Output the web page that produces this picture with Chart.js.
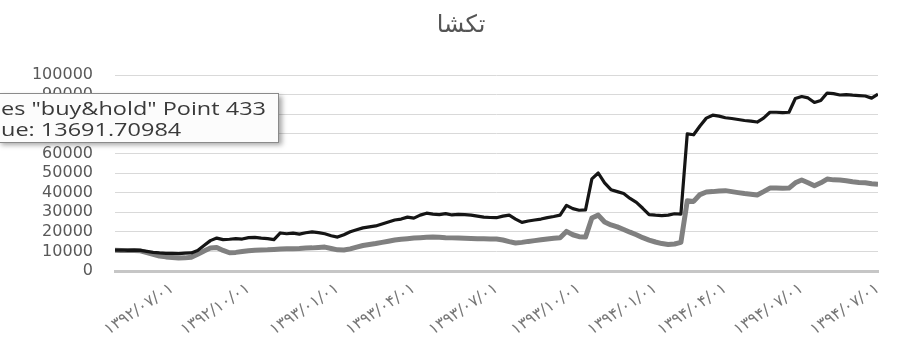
<!DOCTYPE html>
<html><head><meta charset="utf-8">
<script src="https://cdn.jsdelivr.net/npm/chart.js@4"></script>
<style>html,body{margin:0;padding:0;background:#fff}#wrap{width:904px;height:346px}</style>
</head><body><div id="wrap"><canvas id="c" width="904" height="346"></canvas></div>
<script>
const titleText = 'تکشا';
const dateLabels = ['۱۳۹۲/۰۷/۰۱','۱۳۹۲/۱۰/۰۱','۱۳۹۳/۰۱/۰۱','۱۳۹۳/۰۴/۰۱','۱۳۹۳/۰۷/۰۱','۱۳۹۳/۱۰/۰۱','۱۳۹۴/۰۱/۰۱','۱۳۹۴/۰۴/۰۱','۱۳۹۴/۰۷/۰۱','۱۳۹۴/۰۷/۰۱'];
const dateTickIndex = [9, 21, 35, 47, 60, 73, 85, 96, 108, 120];
const yMin = 0, yMax = 100000, yStep = 10000;
const strategy = [
10600,10700,10500,10600,10500,10000,9500,9200,9000,9000,
8900,9100,9200,10500,13000,15500,16800,16000,16200,16500,
16300,17000,17200,16800,16500,16000,19400,19000,19300,18800,
19500,20000,19600,19000,18000,17300,18500,20000,21000,22000,
22500,23000,24000,25000,26000,26500,27500,27000,28500,29500,
29000,28800,29300,28600,28900,28800,28500,28000,27500,27300,
27200,28000,28500,26500,24800,25500,26000,26500,27200,27800,
28500,33500,31800,31000,31200,47000,50000,45000,41500,40500,
39500,37000,35000,32000,28800,28500,28300,28500,29200,29000,
70000,69500,74000,78000,79500,79000,78200,77800,77300,76800,
76500,76000,78000,81000,81000,80800,81000,88000,89000,88300,
86000,87000,90800,90500,89800,90000,89700,89500,89300,88200,
90200];
const buyHold = [
10600,10500,10400,10400,10300,9400,8500,7600,7200,6900,
6600,6700,7000,8500,10200,11700,12000,10500,9300,9500,
9900,10300,10600,10700,10800,11000,11200,11300,11400,11500,
11700,11800,12000,12200,11500,10800,10700,11300,12200,13000,
13500,14000,14600,15200,15800,16200,16500,16800,17000,17200,
17300,17200,17000,16900,16800,16700,16600,16500,16400,16300,
16300,15800,15000,14300,14600,15100,15500,15900,16300,16700,
17000,20200,18500,17500,17300,27000,28500,25000,23500,22500,
21200,19800,18500,17000,15800,14800,14000,13500,13800,14600,
35800,35500,39000,40300,40500,40800,41000,40500,40000,39500,
39200,38800,40500,42300,42300,42200,42300,45000,46400,45000,
43500,45000,46900,46500,46400,46000,45500,45200,45000,44500,
44300];
const tooltipLines = ['es "buy&hold" Point 433', 'ue: 13691.70984'];

const titlePlugin = {
  id: 'offsetTitle',
  afterDraw(chart) {
    const ctx = chart.ctx;
    ctx.save();
    ctx.font = '24px "DejaVu Sans"';
    ctx.fillStyle = '#555';
    ctx.textAlign = 'center';
    ctx.textBaseline = 'middle';
    ctx.fillText(titleText, 461, 26);
    ctx.restore();
  }
};

const tipPlugin = {
  id: 'excelTip',
  afterDraw(chart) {
    const ctx = chart.ctx;
    ctx.save();
    ctx.shadowColor = 'rgba(0,0,0,0.35)';
    ctx.shadowBlur = 5; ctx.shadowOffsetX = 3; ctx.shadowOffsetY = 3;
    ctx.fillStyle = '#fcfcfc';
    ctx.fillRect(-2, 93, 281, 49);
    ctx.shadowColor = 'transparent';
    ctx.strokeStyle = '#8a8a8a'; ctx.lineWidth = 1;
    ctx.strokeRect(-2.5, 93.5, 281, 49);
    ctx.font = '18px "Open Sans"';
    ctx.fillStyle = '#3a3a3a';
    ctx.textBaseline = 'alphabetic';
    const sx = 265 / ctx.measureText(tooltipLines[0]).width;
    ctx.translate(1, 0); ctx.scale(sx, 1);
    ctx.fillText(tooltipLines[0], 0, 115);
    ctx.fillText(tooltipLines[1], 0, 136);
    ctx.restore();
  }
};

new Chart(document.getElementById('c'), {
  type: 'line',
  data: {
    labels: strategy.map((_, i) => i),
    datasets: [
      { label: 'strategy', data: strategy, borderColor: '#151515', borderWidth: 3.2, pointRadius: 0, tension: 0, borderJoinStyle: 'round', order: 0 },
      { label: 'buy&hold', data: buyHold, borderColor: '#808080', borderWidth: 5, pointRadius: 0, tension: 0, borderJoinStyle: 'round', order: 1 }
    ]
  },
  options: {
    responsive: false, animation: false, devicePixelRatio: 1,
    layout: { padding: { left: 0, right: 26, top: 75, bottom: 0 } },
    plugins: {
      legend: { display: false },
      tooltip: { enabled: false },
      title: { display: false }
    },
    scales: {
      x: {
        type: 'linear', min: 0, max: strategy.length - 1,
        grid: { display: false },
        border: { display: true, color: '#c6c6c6', width: 3 },
        afterBuildTicks: s => { s.ticks = dateTickIndex.map(v => ({ value: v })); },
        afterFit: s => { s.height = 75; },
        ticks: { autoSkip: false, minRotation: 34, maxRotation: 34, color: '#777', padding: 0,
          font: { family: 'DejaVu Sans', size: 16 },
          callback: (v, i) => dateLabels[i] }
      },
      y: {
        min: yMin, max: yMax,
        afterFit: s => { s.width = 115; },
        grid: { color: '#d9d9d9', lineWidth: 1, drawTicks: false },
        border: { display: false },
        ticks: { stepSize: yStep, autoSkip: false, padding: 22, color: '#595959',
          font: { family: 'DejaVu Sans', size: 16 },
          callback: v => String(v) }
      }
    }
  },
  plugins: [titlePlugin, tipPlugin]
});
</script></body></html>
